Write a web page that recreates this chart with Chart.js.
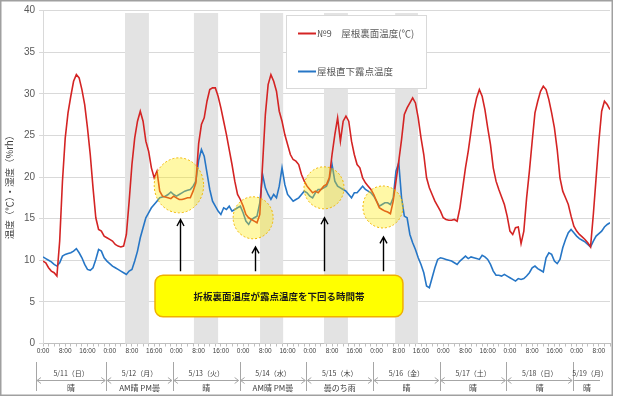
<!DOCTYPE html>
<html><head><meta charset="utf-8">
<script src="https://cdn.jsdelivr.net/npm/chart.js@4/dist/chart.umd.min.js"></script>
<style>html,body{margin:0;padding:0;background:#fff;}canvas{display:block;}</style>
</head><body>
<canvas id="c" width="620" height="396"></canvas>
<script>
// hourly values, index = hours since 5/11 0:00
const roofTemp = [
9.9,9.7,9.1,8.7,8.5,8.1,12.3,19.5,24.7,27.7,29.7,31.5,32.3,31.9,30.5,28.7,25.9,22.7,18.7,15.1,
13.7,13.5,12.9,12.7,12.5,12.3,11.9,11.7,11.6,11.7,13.1,17.1,21.5,24.7,26.7,27.9,26.7,24.3,23.1,21.1,
19.9,20.7,18.3,17.7,17.6,17.5,17.4,17.7,17.5,17.3,17.3,17.4,17.5,17.5,18.3,19.3,24.0,26.3,27.1,29.1,
30.5,30.7,30.7,29.7,28.3,26.7,25.1,23.3,21.5,19.5,17.9,17.3,16.5,15.5,15.1,14.9,14.7,14.5,15.5,21.5,
27.5,31.1,32.3,31.5,30.3,27.9,26.7,25.1,23.9,22.7,22.1,21.9,21.5,20.3,19.5,18.9,18.5,18.1,18.3,18.1,
18.5,18.9,19.1,19.9,22.7,25.1,27.1,24.3,26.7,27.3,26.7,24.3,22.7,21.5,21.1,19.9,19.3,18.9,18.5,17.9,
17.1,16.3,16.1,15.9,15.8,15.6,17.1,19.5,21.9,24.5,27.5,28.3,28.9,29.5,28.9,27.1,24.7,22.7,19.9,18.7,
17.9,17.1,16.5,15.9,15.1,14.9,14.8,14.8,14.9,14.7,16.3,18.7,21.1,23.1,25.5,27.9,29.5,30.5,29.7,28.1,
25.9,23.9,21.1,19.5,18.5,17.6,16.7,15.3,13.5,13.1,13.9,14.0,12.0,13.5,17.5,20.7,24.3,27.7,29.1,30.3,
30.9,30.5,29.3,27.7,25.9,23.3,19.9,18.3,17.5,16.7,15.3,14.1,13.5,13.1,12.8,12.5,12.1,11.6,15.5,19.9,
24.3,27.9,29.1,28.7,28.1];
const dewPoint = [
10.4,10.2,10.0,9.8,9.5,9.3,9.7,10.5,10.7,10.8,10.9,11.1,11.4,10.9,10.3,9.5,8.9,8.8,9.1,10.1,
11.3,11.1,10.3,9.9,9.6,9.3,9.1,8.9,8.7,8.5,8.3,8.7,8.9,9.9,11.1,12.7,13.9,15.1,15.7,16.3,
16.7,17.1,17.5,17.6,17.7,17.9,18.2,17.9,17.7,17.9,18.1,18.3,18.4,18.5,18.9,19.5,22.0,23.3,22.5,20.5,
18.5,17.1,16.5,15.9,15.5,16.3,16.1,16.5,15.9,16.1,16.3,16.5,15.7,14.7,14.3,14.9,15.1,15.3,16.9,20.3,
18.7,17.9,17.3,17.9,17.5,18.9,21.1,19.1,17.9,17.5,17.1,17.3,17.5,17.9,18.3,18.1,17.7,17.5,18.1,18.5,
18.5,18.7,18.9,19.7,21.5,19.5,18.9,18.7,18.5,18.3,17.9,17.5,18.1,18.1,18.5,18.9,18.5,18.3,18.1,17.7,
17.1,16.5,16.7,16.9,16.9,16.7,17.5,20.7,21.7,17.5,15.3,15.1,13.1,12.1,11.3,10.3,9.5,8.5,6.9,6.7,
7.9,9.1,10.1,10.3,10.2,10.1,10.0,9.9,9.7,9.5,9.9,10.2,10.5,10.2,10.4,10.3,10.2,10.1,10.6,10.4,
10.1,9.5,8.7,8.2,8.2,8.1,8.3,8.1,7.9,7.7,7.5,7.8,7.7,7.8,8.1,8.5,9.1,9.3,9.0,8.8,
8.6,10.3,10.9,10.7,9.9,9.6,10.1,11.5,12.5,13.3,13.7,13.3,12.9,12.6,12.4,12.2,11.9,11.6,12.3,12.9,
13.2,13.5,14.0,14.3,14.5];
const seriesNames = ['№9　屋根裏面温度(℃)', '屋根直下露点温度'];
const tickLabels = ['0:00', '8:00', '16:00'];
const dayLabels = ['5/11（日）','5/12（月）','5/13（火）','5/14（水）','5/15（木）','5/16（金）','5/17（土）','5/18（日）','5/19（月）'];
const weatherLabels = ['晴','AM晴 PM曇','晴','AM晴 PM曇','曇のち雨','晴','晴','晴','晴'];
const shadeBands = [[29.5,38.1],[54.3,63.0],[78.1,86.4],[101.1,109.7],[126.7,134.9]]; // hours
const highlightCenters = [[48.9,19.0],[75.6,15.1],[101.1,18.7],[122.3,16.4]]; // [hour, value]
const arrowTips = [[49.3,14.9],[76.1,11.6],[101.1,15.1],[122.3,12.8]]; // [hour, value]
const calloutText = '折板裏面温度が露点温度を下回る時間帯';
const calloutRange = [40.3, 129.5, 8.2, 3.2]; // hour from, hour to, value top, value bottom
const yTitle = '温度（℃）・湿度（%rh）';

const JP = "'Noto Sans CJK JP', sans-serif";
const decor = {
  id: 'decor',
  beforeDatasetsDraw(chart) {
    const {ctx, scales: {x, y}} = chart;
    ctx.save();
    ctx.fillStyle = '#e3e3e3';
    shadeBands.forEach(([a, b]) => {
      const x0 = x.getPixelForValue(a), x1 = x.getPixelForValue(b);
      const yt = y.getPixelForValue(39.7), yb = y.getPixelForValue(0);
      ctx.fillRect(x0, yt, x1 - x0, yb - yt);
    });
    ctx.restore();
  },
  afterDatasetsDraw(chart) {
    const {ctx, scales: {x, y}} = chart;
    ctx.save();
    // highlight ellipses
    highlightCenters.forEach(([h, v], i) => {
      const cx = x.getPixelForValue(h), cy = y.getPixelForValue(v);
      const rx = i === 0 ? 24.7 : 20, ry = i === 0 ? 27.5 : 21;
      ctx.beginPath();
      ctx.ellipse(cx, cy, rx, ry, 0, 0, Math.PI * 2);
      ctx.fillStyle = 'rgba(255,235,0,0.35)';
      ctx.fill();
      ctx.setLineDash([2, 2]);
      ctx.strokeStyle = '#f2b600';
      ctx.lineWidth = 1;
      ctx.stroke();
      ctx.setLineDash([]);
    });
    // arrows
    const boxTop = y.getPixelForValue(calloutRange[2]);
    arrowTips.forEach(([h, v]) => {
      const ax = Math.round(x.getPixelForValue(h)) + 0.5, ty = y.getPixelForValue(v);
      ctx.strokeStyle = '#000';
      ctx.lineWidth = 1.4;
      ctx.beginPath();
      ctx.moveTo(ax, boxTop - 4);
      ctx.lineTo(ax, ty);
      ctx.moveTo(ax - 3.5, ty + 6.5);
      ctx.lineTo(ax, ty);
      ctx.lineTo(ax + 3.5, ty + 6.5);
      ctx.stroke();
    });
    // callout box
    const bx0 = x.getPixelForValue(calloutRange[0]), bx1 = x.getPixelForValue(calloutRange[1]);
    const by0 = y.getPixelForValue(calloutRange[2]), by1 = y.getPixelForValue(calloutRange[3]);
    ctx.beginPath();
    ctx.roundRect(bx0, by0, bx1 - bx0, by1 - by0, 8);
    ctx.fillStyle = '#ffff00';
    ctx.fill();
    ctx.strokeStyle = '#f0b000';
    ctx.lineWidth = 1.5;
    ctx.stroke();
    ctx.fillStyle = '#1a1a1a';
    ctx.font = 'bold 9.5px ' + JP;
    ctx.textAlign = 'center';
    ctx.textBaseline = 'middle';
    ctx.fillText(calloutText, (bx0 + bx1) / 2, (by0 + by1) / 2 + 0.5);
    ctx.restore();
  },
  afterDraw(chart) {
    const {ctx, scales: {x, y}} = chart;
    ctx.save();
    // legend
    ctx.fillStyle = '#fff';
    ctx.fillRect(286.5, 15.5, 140, 73);
    ctx.strokeStyle = '#d9d9d9';
    ctx.lineWidth = 1;
    ctx.strokeRect(286.5, 15.5, 140, 73);
    const cols = chart.data.datasets.map(d => d.borderColor);
    [[33.5], [71.5]].forEach(([ly], i) => {
      ctx.strokeStyle = cols[i];
      ctx.lineWidth = 2;
      ctx.beginPath();
      ctx.moveTo(298, ly);
      ctx.lineTo(316, ly);
      ctx.stroke();
      ctx.fillStyle = '#595959';
      ctx.font = '9.5px ' + JP;
      ctx.textAlign = 'left';
      ctx.textBaseline = 'middle';
      ctx.fillText(seriesNames[i], 317, ly);
    });
    // y title
    ctx.save();
    ctx.translate(9, 185);
    ctx.rotate(-Math.PI / 2);
    ctx.fillStyle = '#404040';
    ctx.font = '9.5px ' + JP;
    ctx.textAlign = 'center';
    ctx.textBaseline = 'middle';
    ctx.fillText(yTitle, 0, 0);
    ctx.restore();
    // date / weather table
    const seps = dayLabels.map((_, d) => x.getPixelForValue(d * 24) - (d === 0 ? 7 : 3.5));
    ctx.strokeStyle = '#a6a6a6';
    ctx.lineWidth = 1;
    seps.forEach(sx => {
      ctx.beginPath();
      ctx.moveTo(Math.round(sx) + 0.5, 362);
      ctx.lineTo(Math.round(sx) + 0.5, 391);
      ctx.stroke();
    });
    ctx.textAlign = 'center';
    ctx.textBaseline = 'middle';
    dayLabels.forEach((lab, d) => {
      const s0 = seps[d];
      const s1 = d + 1 < seps.length ? seps[d + 1] : 601;
      const mid = (s0 + s1) / 2;
      ctx.fillStyle = '#404040';
      ctx.font = '7px ' + JP;
      ctx.fillText(lab, d + 1 < seps.length ? mid : mid + 3, 373);
      ctx.font = '8px ' + JP;
      ctx.fillText(weatherLabels[d], mid, 387.5);
      // dimension line
      ctx.strokeStyle = '#a6a6a6';
      ctx.beginPath();
      ctx.moveTo(s0 + 1, 380.5);
      ctx.lineTo(s1 - 1, 380.5);
      if (d + 1 < seps.length) {
        ctx.moveTo(s0 + 5, 377.5); ctx.lineTo(s0 + 1, 380.5); ctx.lineTo(s0 + 5, 383.5);
        ctx.moveTo(s1 - 5, 377.5); ctx.lineTo(s1 - 1, 380.5); ctx.lineTo(s1 - 5, 383.5);
      }
      ctx.stroke();
    });
    // outer frame
    ctx.strokeStyle = '#a0a0a0';
    ctx.lineWidth = 1.5;
    ctx.strokeRect(0.75, 0.75, 611.5, 394.5);
    ctx.restore();
  }
};

const pts = arr => arr.map((v, i) => ({x: i, y: v}));
new Chart(document.getElementById('c'), {
  type: 'line',
  data: {
    datasets: [
      {label: seriesNames[0], data: pts(roofTemp), borderColor: '#d42424', borderWidth: 1.6, pointRadius: 0, tension: 0},
      {label: seriesNames[1], data: pts(dewPoint), borderColor: '#2676c6', borderWidth: 1.6, pointRadius: 0, tension: 0}
    ]
  },
  options: {
    responsive: false, animation: false, devicePixelRatio: 1,
    layout: {padding: {left: 0, right: 10, top: 10.5, bottom: 0}},
    plugins: {legend: {display: false}, tooltip: {enabled: false}},
    scales: {
      x: {
        type: 'linear', min: 0, max: 204,
        afterFit(s) { s.height = 52.5; },
        afterBuildTicks(s) { const t = []; for (let h = 0; h <= 204; h += 2) t.push({value: h}); s.ticks = t; },
        ticks: {
          autoSkip: false, maxRotation: 0, minRotation: 0, padding: 1,
          font: {size: 6.5, family: 'Liberation Sans'}, color: '#404040',
          callback(v) { return v % 8 === 0 ? tickLabels[(v % 24) / 8] : ''; }
        },
        grid: {drawOnChartArea: false, tickLength: 3, color: '#bfbfbf'},
        border: {color: '#bfbfbf'}
      },
      y: {
        min: 0, max: 40,
        afterFit(s) { s.width = 43; },
        ticks: {stepSize: 5, padding: 4, font: {size: 10, family: 'Liberation Sans'}, color: '#595959'},
        grid: {color: '#d9d9d9', tickLength: 4},
        border: {color: '#d9d9d9'}
      }
    }
  },
  plugins: [decor]
});
</script>
</body></html>
